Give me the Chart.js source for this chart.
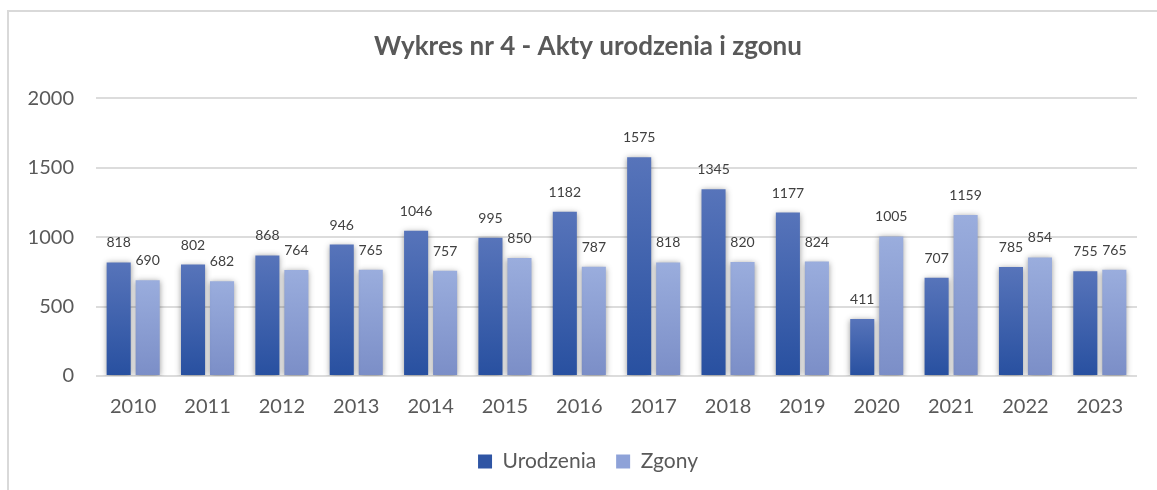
<!DOCTYPE html>
<html>
<head>
<meta charset="utf-8">
<script src="https://cdn.jsdelivr.net/npm/chart.js@4.4.1/dist/chart.umd.min.js"></script>
<style>
  html, body { margin: 0; padding: 0; background: #fff; }
  body { width: 1157px; height: 490px; position: relative; overflow: hidden; }
  .frame { position: absolute; left: 7px; top: 10px; width: 1200px; height: 520px;
           border-left: 2px solid #d9d9d9; border-top: 2px solid #d9d9d9; }
  .wrap { position: absolute; left: 0; top: 0; width: 1157px; height: 490px; }
</style>
</head>
<body>
<div class="frame"></div>
<div class="wrap"><canvas id="chart"></canvas></div>
<script>
const years = ["2010", "2011", "2012", "2013", "2014", "2015", "2016", "2017", "2018", "2019", "2020", "2021", "2022", "2023"];
const urodzenia = [818, 802, 868, 946, 1046, 995, 1182, 1575, 1345, 1177, 411, 707, 785, 755];
const zgony = [690, 682, 764, 765, 757, 850, 787, 818, 820, 824, 1005, 1159, 854, 765];
const seriesNames = ["Urodzenia", "Zgony"];
const legendColors = ["#2f55a4", "#8ea2d8"];

const textColor = "#595959";
const fontFamily = "Lato, 'Open Sans', sans-serif";

// gradient per bar, from its top down to the zero line
function barGradient(top, bottom) {
  return (c) => {
    const chart = c.chart;
    const y = chart.scales.y;
    if (!y || c.type !== "data" || !c.parsed) return bottom;
    const yTop = y.getPixelForValue(c.parsed.y);
    const yBase = y.getPixelForValue(0);
    const g = chart.ctx.createLinearGradient(0, yTop, 0, yBase);
    g.addColorStop(0, top);
    g.addColorStop(1, bottom);
    return g;
  };
}

const barShadow = {
  id: "barShadow",
  beforeDatasetsDraw(chart) {
    const ctx = chart.ctx;
    ctx.save();
    ctx.shadowColor = "rgba(0,0,0,0.4)";
    ctx.shadowBlur = 6;
    ctx.shadowOffsetX = 0;
    ctx.shadowOffsetY = 1;
  },
  afterDatasetsDraw(chart) {
    chart.ctx.restore();
  }
};

const valueLabels = {
  id: "valueLabels",
  afterDatasetsDraw(chart) {
    const ctx = chart.ctx;
    ctx.save();
    ctx.font = "14px " + fontFamily;
    ctx.fillStyle = "#404040";
    ctx.textAlign = "center";
    ctx.textBaseline = "alphabetic";
    chart.data.datasets.forEach((ds, i) => {
      chart.getDatasetMeta(i).data.forEach((el, j) => {
        ctx.fillText(String(ds.data[j]), el.x, el.y - 15);
      });
    });
    ctx.restore();
  }
};

new Chart(document.getElementById("chart"), {
  type: "bar",
  data: {
    labels: years,
    datasets: [
      {
        label: seriesNames[0],
        data: urodzenia,
        backgroundColor: barGradient("#5774ba", "#2850a0"),
        categoryPercentage: 0.78,
        barPercentage: 0.83
      },
      {
        label: seriesNames[1],
        data: zgony,
        backgroundColor: barGradient("#9aaddd", "#7b8ec7"),
        categoryPercentage: 0.78,
        barPercentage: 0.83
      }
    ]
  },
  options: {
    responsive: true,
    maintainAspectRatio: false,
    animation: false,
    layout: { padding: { top: 10, left: 24, right: 5, bottom: 8 } },
    plugins: {
      title: {
        display: true,
        text: "Wykres nr 4 - Akty urodzenia i zgonu",
        color: textColor,
        font: { family: fontFamily, size: 26, weight: "bold" },
        padding: { top: 21, bottom: 36 }
      },
      legend: {
        position: "bottom",
        labels: {
          boxWidth: 14,
          boxHeight: 14,
          padding: 20,
          color: textColor,
          font: { family: fontFamily, size: 21 },
          generateLabels: (chart) => chart.data.datasets.map((ds, i) => ({
            text: ds.label,
            fillStyle: legendColors[i],
            strokeStyle: legendColors[i],
            lineWidth: 0,
            hidden: false,
            datasetIndex: i,
            fontColor: textColor
          }))
        }
      },
      tooltip: { enabled: false }
    },
    scales: {
      x: {
        grid: { display: false, drawTicks: false },
        border: { display: false },
        ticks: { color: textColor, padding: 19, font: { family: fontFamily, size: 20 } },
        afterFit: (s) => { s.height = 55; }
      },
      y: {
        min: 0,
        max: 2000,
        ticks: {
          stepSize: 500,
          color: textColor,
          padding: 22,
          font: { family: fontFamily, size: 20 },
          callback: (v) => String(v)
        },
        grid: { color: "#dcdcdc", lineWidth: 2, drawTicks: false },
        border: { display: false },
        afterFit: (s) => { s.width = 72; }
      },
      // empty right-hand spacer so title and legend centre like the original
      spacer: {
        position: "right",
        min: 0,
        max: 1,
        grid: { display: false, drawTicks: false },
        border: { display: false },
        ticks: { display: false },
        afterFit: (s) => { s.width = 15; }
      }
    }
  },
  plugins: [barShadow, valueLabels]
});
</script>
</body>
</html>
